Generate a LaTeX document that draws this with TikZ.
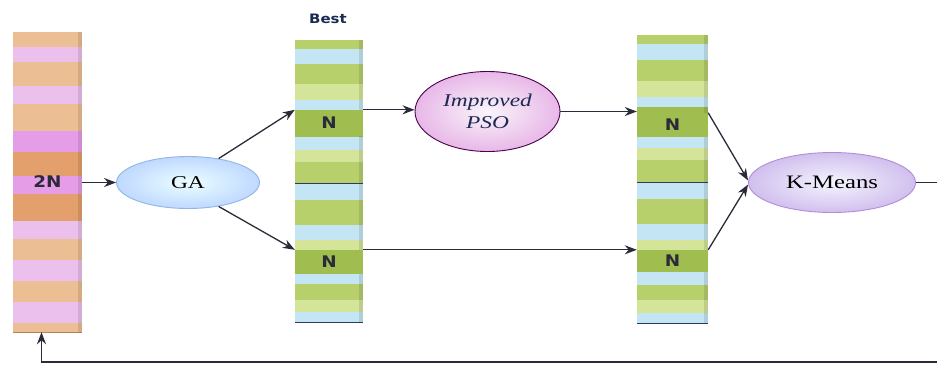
\documentclass[tikz,border=0pt]{standalone}
\usepackage{fontspec}
\setmainfont{Liberation Serif}
\newfontfamily\wideserif[FakeStretch=1.3]{Liberation Serif}
\newfontfamily\widesans[FakeStretch=1.15]{DejaVu Sans}
\usetikzlibrary{arrows.meta,shapes.geometric,calc}

% stripe colours
\definecolor{gDark}{HTML}{A0BE50}
\definecolor{gMid}{HTML}{B7D06C}
\definecolor{gLt}{HTML}{D4E59A}
\definecolor{bLt}{HTML}{C4E5F3}
\definecolor{oTan}{HTML}{EBBE94}
\definecolor{oPink}{HTML}{EBC0EC}
\definecolor{oOrange}{HTML}{E3A06C}
\definecolor{oMag}{HTML}{E49DE6}
\definecolor{edge}{HTML}{2E3A5C}
\definecolor{ink}{HTML}{2A2A38}
\definecolor{navy}{HTML}{1C2A52}

% stripe lists: from/to (fractions of height)/colour
\def\popStripes{0/.05/oTan,.05/.10/oPink,.10/.18/oTan,.18/.24/oPink,.24/.33/oTan,.33/.40/oMag,.40/.48/oOrange,.48/.54/oMag,.54/.63/oOrange,.63/.69/oPink,.69/.76/oTan,.76/.83/oPink,.83/.90/oTan,.90/.97/oPink,.97/1/oTan}
\def\upStripes{0/.06/gMid,.06/.17/bLt,.17/.31/gMid,.31/.42/gLt,.42/.49/bLt,.49/.68/gDark,.68/.77/bLt,.77/.85/gLt,.85/1/gMid}
\def\lowStripes{0/.12/bLt,.12/.30/gMid,.30/.41/bLt,.41/.48/gLt,.48/.63/gDark,.63/.73/bLt,.73/.84/gMid,.84/.93/gLt,.93/1/bLt}

\tikzset{
  stripes/.style={rectangle, inner sep=0pt, path picture={
    \foreach \a/\b/\c in #1 {
      \fill[\c] ($(path picture bounding box.north west)!\a!(path picture bounding box.south west)$)
        rectangle ($(path picture bounding box.north east)!\b!(path picture bounding box.south east)$);
    }
    \fill[black, opacity=0.10] (path picture bounding box.north east)
      rectangle ([xshift=-4pt]path picture bounding box.south east);
  }},
  half/.style={stripes=#1, minimum width=68pt},
  nband/.style={rectangle, inner sep=0pt, fill=gDark, minimum width=68pt,
    font=\widesans\bfseries\fontsize{16}{16}\selectfont, text=ink},
  blob/.style={ellipse, inner sep=0pt, shading=radial, line width=0.9pt},
  tip/.style={-{Stealth[length=12pt,width=9pt]}},
  arr/.style={draw=ink, line width=1.3pt, tip},
  plain/.style={draw=ink, line width=1.3pt},
  divider/.style={draw=edge, line width=1.4pt},
}

\begin{document}
\begin{tikzpicture}[x=1pt,y=-1pt]
\useasboundingbox (0,0) rectangle (937,365);

% population of 2N
\node[stripes=\popStripes, minimum width=69pt, minimum height=300pt,
      font=\widesans\bfseries\fontsize{16}{16}\selectfont, text=ink]
      (pop) at (47.5,182) {2N};
\draw[divider, draw=oOrange!80!black] (pop.south west) -- (pop.south east);

% first pair of N blocks
\node[half=\upStripes, minimum height=143pt] (b1t) at (329,111.5) {};
\node[half=\lowStripes, minimum height=139pt] (b1b) at (329,252.5) {};
\node[nband, minimum height=26pt] (n1) at (329,123) {N};
\node[nband, minimum height=24pt] (n2) at (329,262) {\raisebox{-4pt}{N}};
\draw[divider] (b1t.south west) -- (b1t.south east);
\draw[divider] (b1b.south west) -- (b1b.south east);
\node[font=\widesans\bfseries\fontsize{13}{13}\selectfont, text=navy] (best) at (328,19) {Best};

% second pair of N blocks
\node[half=\upStripes, minimum width=71pt, minimum height=147pt] (b2t) at (672.5,108.5) {};
\node[half=\lowStripes, minimum width=71pt, minimum height=141pt] (b2b) at (672.5,252.5) {};
\node[nband, minimum width=71pt, minimum height=24pt] (n3) at (672.5,125) {N};
\node[nband, minimum width=71pt, minimum height=22pt] (n4) at (672.5,261) {\raisebox{-4pt}{N}};
\draw[divider] (b2t.south west) -- (b2t.south east);
\draw[divider] (b2b.south west) -- (b2b.south east);

% algorithm stages
\node[blob, inner color=blue!3!cyan!8, outer color=cyan!40!blue!25, draw=cyan!60!blue!45,
      minimum width=143pt, minimum height=52pt,
      font=\wideserif\fontsize{18}{18}\selectfont, text=black] (ga) at (188,182.5) {GA};
\node[blob, inner color=violet!4, outer color=magenta!35!violet!28, draw=violet!60!black,
      minimum width=145pt, minimum height=80pt, align=center,
      font=\wideserif\itshape\fontsize{18}{22}\selectfont, text=navy] (pso) at (487.5,111.5) {Improved\\PSO};
\node[blob, inner color=blue!4, outer color=blue!45!violet!25, draw=blue!35!violet!45,
      minimum width=167pt, minimum height=60pt,
      font=\wideserif\fontsize{19}{19}\selectfont, text=black] (km) at (832,182.5) {K-Means};

% flow
\draw[arr] (pop.east |- ga.west) -- (ga.west);
\draw[arr] (ga.38) -- (n1.north west);
\draw[arr] (ga.-38) -- (n2.north west);
\draw[arr] (n1.north east) -- (n1.north east -| pso.west);
\draw[arr, line width=1pt] (pso.east) -- (pso.east -| n3.west);
\draw[arr] (n2.north east) -- (n2.north east -| n4.west);
\draw[arr] (n3.north east) -- ([yshift=2pt]km.west);
\draw[arr] (n4.north east) -- ([yshift=-2pt]km.west);

% loop back to the population
\coordinate (out) at (937,182.5);
\coordinate (fb) at (937,362);
\coordinate (pin) at ([xshift=-6pt]pop.south);
\draw[plain] (km.east) -- (out);
\draw[arr] (fb) -| (pin);
\end{tikzpicture}
\end{document}
